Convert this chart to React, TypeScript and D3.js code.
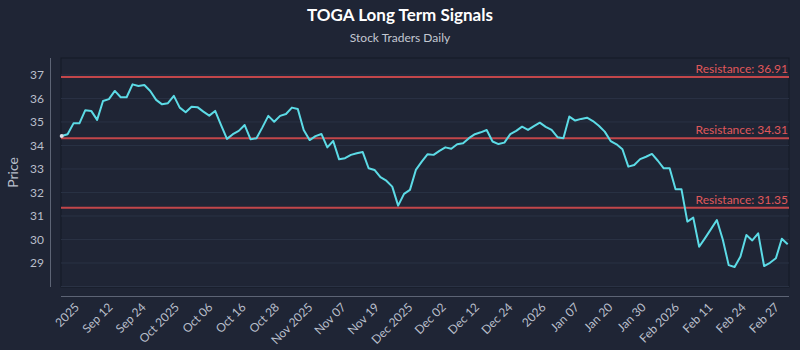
import React from "react";
import * as d3 from "d3";

// closing prices, Sep 02 2025 .. Feb 27 2026
const prices = [
	34.4, 34.48, 34.94, 34.94, 35.5, 35.47, 35.09, 35.89, 35.97, 36.32,
	36.05, 36.05, 36.6, 36.53, 36.57, 36.32, 35.94, 35.75, 35.8, 36.11,
	35.61, 35.41, 35.65, 35.63, 35.44, 35.27, 35.47, 34.87, 34.28, 34.48,
	34.62, 34.87, 34.26, 34.31, 34.77, 35.26, 35.01, 35.26, 35.34, 35.61,
	35.55, 34.66, 34.23, 34.4, 34.49, 33.92, 34.19, 33.41, 33.46, 33.6,
	33.67, 33.72, 33.03, 32.96, 32.65, 32.5, 32.25, 31.44, 31.94, 32.11,
	32.96, 33.31, 33.63, 33.6, 33.77, 33.92, 33.86, 34.05, 34.09, 34.31,
	34.48, 34.56, 34.66, 34.17, 34.06, 34.12, 34.48, 34.62, 34.8, 34.66,
	34.82, 34.97, 34.79, 34.66, 34.35, 34.31, 35.23, 35.06, 35.13, 35.18,
	35.04, 34.84, 34.59, 34.19, 34.05, 33.84, 33.1, 33.17, 33.42, 33.52,
	33.64, 33.35, 33.03, 33.03, 32.14, 32.14, 30.76, 30.93, 29.69, 30.06,
	30.44, 30.83, 30.0, 28.91, 28.83, 29.28, 30.19, 29.96, 30.26, 28.87,
	29.01, 29.2, 30.03, 29.8,
];

const resistances = [36.91, 34.31, 31.35];

const xLabels = [
	"2025", "Sep 12", "Sep 24", "Oct 2025", "Oct 06", "Oct 16", "Oct 28",
	"Nov 2025", "Nov 07", "Nov 19", "Dec 2025", "Dec 02", "Dec 12", "Dec 24",
	"2026", "Jan 07", "Jan 20", "Jan 30", "Feb 2026", "Feb 11", "Feb 24", "Feb 27",
];

const yTicks = [29, 30, 31, 32, 33, 34, 35, 36, 37];

const W = 800;
const H = 350;
const left = 61;
const right = 789;
const top = 58;
const bottom = 287;
const font = "Lato, 'Open Sans', sans-serif";

export default function App() {
	const x = d3.scaleLinear().domain([0, prices.length - 1]).range([left + 0.7, right - 1.3]);
	const y = d3.scaleLinear().domain([28, 37.7]).range([bottom - 0.5, top + 0.5]);
	const xTick = d3.scalePoint<string>().domain(xLabels).range([80, 780]);

	const line = d3
		.line<number>()
		.x((d, i) => x(i))
		.y((d) => y(d));

	return (
		<svg
			width={W}
			height={H}
			style={{ position: "absolute", left: 0, top: 0, display: "block" }}
			fontFamily={font}
		>
			<rect width={W} height={H} fill="#1f2535" />

			{/* title */}
			<text x={400} y={21} textAnchor="middle" fill="#ffffff" fontSize={17} fontWeight="bold">
				TOGA Long Term Signals
			</text>
			<text x={400} y={42} textAnchor="middle" fill="#c3c8d2" fontSize={12}>
				Stock Traders Daily
			</text>

			{/* plot area */}
			<rect x={left} y={top} width={right - left} height={bottom - top} fill="#1f2535" stroke="#151a26" strokeWidth={1} />
			{d3.range(28, 38).map((t) => (
				<line key={t} x1={left} x2={right} y1={y(t)} y2={y(t)} stroke="#2a3244" strokeWidth={1} />
			))}

			{/* y axis */}
			<line x1={50.5} x2={50.5} y1={top} y2={bottom} stroke="#5d6475" strokeWidth={1} />
			{yTicks.map((t) => (
				<text key={t} x={44} y={y(t)} dy="0.35em" textAnchor="end" fill="#b9bfcb" fontSize={12}>
					{t}
				</text>
			))}
			<text
				transform={`translate(18,${(top + bottom) / 2}) rotate(-90)`}
				textAnchor="middle"
				fill="#b9bfcb"
				fontSize={14}
			>
				Price
			</text>

			{/* x axis */}
			<line x1={left} x2={right} y1={296.5} y2={296.5} stroke="#5d6475" strokeWidth={1} />
			{xLabels.map((l) => (
				<text
					key={l}
					transform={`translate(${xTick(l)},${308}) rotate(-45)`}
					textAnchor="end"
					fill="#b9bfcb"
					fontSize={12}
				>
					{l}
				</text>
			))}

			{/* resistance lines */}
			{resistances.map((r) => (
				<g key={r}>
					<line x1={left} x2={right} y1={y(r)} y2={y(r)} stroke="#c2464a" strokeWidth={2} />
					<text x={right - 1} y={y(r) - 4} textAnchor="end" fill="#e0585b" fontSize={12}>
						{`Resistance: ${r.toFixed(2)}`}
					</text>
				</g>
			))}

			{/* price line */}
			<path d={line(prices) ?? ""} fill="none" stroke="#5cdbe6" strokeWidth={2} strokeLinejoin="round" />
			<circle cx={x(0)} cy={y(prices[0])} r={2} fill="#d8dde5" />
		</svg>
	);
}
